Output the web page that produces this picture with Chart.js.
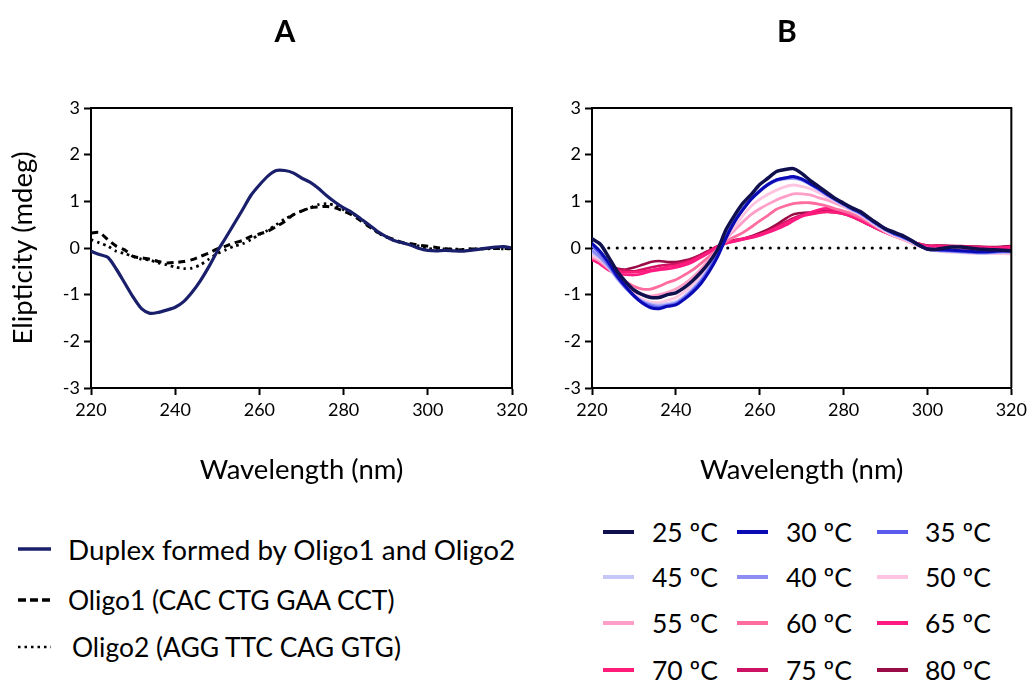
<!DOCTYPE html>
<html><head><meta charset="utf-8">
<script src="https://cdn.jsdelivr.net/npm/chart.js@4.4.1/dist/chart.umd.min.js"></script>
<style>
body{margin:0;background:#fff;}
#wrap{position:relative;width:1031px;height:685px;overflow:hidden;font-family:Lato,"Liberation Sans",sans-serif;color:#000;}
canvas{position:absolute;top:0;}
#cA{left:0;}
#cB{left:540px;}
.ptitle{position:absolute;top:12px;font-weight:bold;font-size:30px;line-height:36px;transform:translateX(-50%);}
.lg{position:absolute;height:40px;display:flex;align-items:center;white-space:nowrap;transform:translateY(-50%);}
.lg svg{display:block;}
</style></head>
<body><div id="wrap">
<canvas id="cA" width="540" height="500"></canvas>
<canvas id="cB" width="491" height="500"></canvas>
<div class="ptitle" style="left:285px">A</div>
<div class="ptitle" style="left:787px">B</div>
<div id="legA"></div><div id="legB"></div>
</div>
<script>
// ---- data ----
const wavelengths = [220,222,224,226,228,230,232,234,236,238,240,242,244,246,248,250,252,254,256,258,260,262,264,266,268,270,272,274,276,278,280,282,284,286,288,290,292,294,296,298,300,302,304,306,308,310,312,314,316,318,320];
const duplex = [-0.07,-0.14,-0.2,-0.45,-0.75,-1.05,-1.3,-1.4,-1.38,-1.33,-1.27,-1.15,-0.95,-0.7,-0.4,-0.07,0.22,0.52,0.82,1.13,1.35,1.54,1.66,1.66,1.61,1.5,1.41,1.28,1.12,0.98,0.86,0.76,0.63,0.5,0.36,0.25,0.16,0.11,0.06,-0.01,-0.05,-0.06,-0.05,-0.06,-0.07,-0.05,-0.03,0.0,0.02,0.03,0.0];
const oligo1 = [0.32,0.33,0.18,0.04,-0.04,-0.18,-0.21,-0.24,-0.29,-0.32,-0.31,-0.29,-0.25,-0.18,-0.11,-0.02,0.04,0.11,0.16,0.25,0.3,0.36,0.46,0.57,0.71,0.79,0.86,0.88,0.89,0.86,0.79,0.71,0.59,0.46,0.34,0.25,0.18,0.12,0.09,0.06,0.04,0.01,-0.01,-0.04,-0.04,-0.02,-0.02,-0.01,-0.01,-0.01,-0.01];
const oligo2 = [0.18,0.11,0.04,-0.07,-0.12,-0.18,-0.24,-0.26,-0.32,-0.36,-0.41,-0.44,-0.43,-0.36,-0.24,-0.12,-0.04,0.04,0.09,0.18,0.29,0.38,0.5,0.62,0.71,0.79,0.86,0.93,0.95,0.91,0.82,0.74,0.62,0.48,0.34,0.24,0.16,0.11,0.07,0.04,-0.01,-0.02,-0.02,-0.02,-0.03,-0.02,-0.02,-0.02,-0.01,-0.02,-0.02];

const t25 = [0.2,0.08,-0.2,-0.5,-0.72,-0.9,-1.0,-1.06,-1.06,-1.0,-0.96,-0.85,-0.7,-0.52,-0.3,-0.02,0.4,0.7,0.96,1.15,1.36,1.5,1.64,1.68,1.7,1.6,1.45,1.32,1.19,1.06,0.96,0.86,0.78,0.65,0.53,0.41,0.34,0.27,0.17,0.06,-0.02,-0.03,0.0,0.02,0.02,0.0,-0.02,-0.03,-0.04,-0.05,-0.06];
const t30 = [0.1,-0.08,-0.32,-0.6,-0.82,-1.02,-1.18,-1.28,-1.3,-1.25,-1.22,-1.1,-0.95,-0.76,-0.5,-0.18,0.22,0.56,0.82,1.05,1.22,1.36,1.46,1.5,1.53,1.48,1.38,1.28,1.16,1.05,0.95,0.85,0.76,0.64,0.52,0.41,0.32,0.25,0.17,0.06,-0.02,-0.03,-0.04,-0.05,-0.06,-0.07,-0.08,-0.08,-0.07,-0.06,-0.06];
const t35 = [0.05,-0.12,-0.36,-0.62,-0.84,-1.03,-1.17,-1.25,-1.28,-1.24,-1.2,-1.08,-0.92,-0.72,-0.46,-0.14,0.25,0.58,0.84,1.06,1.23,1.37,1.46,1.5,1.52,1.47,1.38,1.27,1.15,1.04,0.94,0.84,0.75,0.63,0.51,0.4,0.31,0.24,0.16,0.06,-0.02,-0.04,-0.05,-0.06,-0.07,-0.08,-0.09,-0.09,-0.08,-0.07,-0.07];
const t40 = [-0.05,-0.2,-0.4,-0.64,-0.85,-1.02,-1.15,-1.22,-1.25,-1.22,-1.18,-1.06,-0.9,-0.7,-0.44,-0.12,0.26,0.58,0.84,1.05,1.22,1.36,1.45,1.49,1.5,1.46,1.37,1.26,1.14,1.03,0.93,0.83,0.74,0.62,0.5,0.39,0.3,0.23,0.15,0.05,-0.03,-0.05,-0.06,-0.07,-0.08,-0.09,-0.1,-0.1,-0.09,-0.08,-0.08];
const t45 = [-0.1,-0.22,-0.42,-0.66,-0.86,-1.02,-1.14,-1.2,-1.22,-1.19,-1.15,-1.03,-0.87,-0.67,-0.41,-0.1,0.27,0.58,0.83,1.04,1.21,1.35,1.44,1.48,1.49,1.45,1.36,1.25,1.13,1.02,0.92,0.82,0.73,0.61,0.49,0.38,0.29,0.22,0.14,0.05,-0.03,-0.05,-0.07,-0.08,-0.09,-0.1,-0.11,-0.11,-0.1,-0.09,-0.09];
const t50 = [-0.15,-0.25,-0.42,-0.64,-0.84,-0.99,-1.1,-1.16,-1.17,-1.12,-1.06,-0.94,-0.78,-0.58,-0.34,-0.06,0.22,0.45,0.7,0.9,1.04,1.15,1.24,1.31,1.35,1.32,1.27,1.19,1.1,1.0,0.91,0.81,0.71,0.59,0.47,0.36,0.27,0.2,0.12,0.04,-0.03,-0.06,-0.08,-0.09,-0.1,-0.11,-0.12,-0.12,-0.12,-0.12,-0.13];
const t55 = [-0.18,-0.28,-0.44,-0.63,-0.8,-0.93,-1.0,-1.03,-1.0,-0.95,-0.88,-0.77,-0.63,-0.45,-0.24,-0.02,0.2,0.38,0.56,0.72,0.84,0.94,1.03,1.1,1.16,1.16,1.14,1.08,1.03,0.96,0.89,0.8,0.7,0.58,0.46,0.35,0.26,0.19,0.11,0.04,-0.02,-0.05,-0.06,-0.07,-0.08,-0.09,-0.1,-0.1,-0.1,-0.1,-0.1];
const t60 = [-0.2,-0.3,-0.45,-0.6,-0.72,-0.82,-0.88,-0.88,-0.82,-0.74,-0.68,-0.58,-0.47,-0.33,-0.18,-0.02,0.14,0.24,0.33,0.45,0.58,0.7,0.83,0.9,0.95,0.97,0.97,0.94,0.9,0.84,0.79,0.73,0.65,0.55,0.44,0.34,0.26,0.19,0.12,0.05,0.0,-0.02,-0.03,-0.04,-0.05,-0.05,-0.06,-0.06,-0.06,-0.05,-0.05];
const t65 = [-0.25,-0.35,-0.48,-0.55,-0.57,-0.58,-0.55,-0.5,-0.47,-0.45,-0.42,-0.37,-0.3,-0.2,-0.1,0.02,0.1,0.14,0.18,0.22,0.27,0.33,0.4,0.48,0.58,0.68,0.76,0.82,0.85,0.82,0.77,0.7,0.6,0.51,0.42,0.34,0.26,0.2,0.13,0.07,0.03,0.03,0.03,0.02,0.02,0.01,0.0,0.0,-0.01,0.0,0.01];
const t70 = [-0.22,-0.32,-0.44,-0.5,-0.52,-0.52,-0.5,-0.48,-0.44,-0.4,-0.38,-0.33,-0.27,-0.18,-0.08,0.03,0.12,0.16,0.2,0.24,0.29,0.35,0.43,0.52,0.61,0.68,0.72,0.75,0.77,0.76,0.73,0.67,0.59,0.5,0.41,0.33,0.26,0.2,0.13,0.08,0.04,0.04,0.03,0.03,0.02,0.02,0.01,0.01,0.0,0.01,0.02];
const t75 = [-0.2,-0.3,-0.4,-0.46,-0.48,-0.5,-0.46,-0.42,-0.38,-0.36,-0.34,-0.3,-0.24,-0.15,-0.06,0.04,0.1,0.15,0.19,0.23,0.28,0.36,0.45,0.55,0.64,0.7,0.74,0.78,0.8,0.79,0.75,0.68,0.6,0.51,0.42,0.34,0.27,0.21,0.14,0.09,0.05,0.05,0.04,0.04,0.03,0.03,0.02,0.02,0.01,0.02,0.03];
const t80 = [-0.18,-0.28,-0.38,-0.44,-0.46,-0.42,-0.36,-0.3,-0.28,-0.3,-0.3,-0.27,-0.22,-0.14,-0.05,0.04,0.12,0.17,0.2,0.25,0.32,0.4,0.5,0.62,0.72,0.75,0.76,0.77,0.78,0.76,0.73,0.67,0.59,0.5,0.41,0.33,0.26,0.2,0.14,0.09,0.05,0.05,0.05,0.04,0.04,0.03,0.03,0.02,0.02,0.03,0.04];
const baselineX = [224, 297];
const baselineY = [0, 0];

const seriesLabelsA = ['Duplex formed by Oligo1 and Oligo2','Oligo1 (CAC CTG GAA CCT)','Oligo2 (AGG TTC CAG GTG)'];
const tempLabels = ['25 ºC','30 ºC','35 ºC','40 ºC','45 ºC','50 ºC','55 ºC','60 ºC','65 ºC','70 ºC','75 ºC','80 ºC'];
const tempSeries = [t25,t30,t35,t40,t45,t50,t55,t60,t65,t70,t75,t80];
const xTicks = [220,240,260,280,300,320];
const yTicks = [-3,-2,-1,0,1,2,3];

// ---- styles ----
const tempColors = ['#10104f','#0a0ab4','#5a5aee','#8d8df3','#c6c6f9','#ffc4df','#ff9fc8','#ff6c9f','#ff1a82','#ff1c78','#cc1262','#990c46'];
const tempWidths = [3.5,3,3,3,3,2.8,2.8,2.8,2.6,2.6,2.6,2.6];
const legendOrderB = [0,1,2,4,3,5,6,7,8,9,10,11];

function pts(xs, ys){ return xs.map((x,i)=>({x:x, y:ys[i]})); }

const FONT = 'Lato, "Liberation Sans", sans-serif';
Chart.defaults.font.family = FONT;
Chart.defaults.color = '#000';

const frame = {
  id:'frame',
  afterDraw(chart){
    const a = chart.chartArea, ctx = chart.ctx;
    ctx.save(); ctx.strokeStyle='#000'; ctx.lineWidth=2;
    ctx.beginPath();
    ctx.moveTo(a.left, a.top); ctx.lineTo(a.right, a.top); ctx.lineTo(a.right, a.bottom);
    ctx.stroke(); ctx.restore();
  }
};

function scales(yW, showYTitle){
  return {
    x:{type:'linear', min:220, max:320,
      afterBuildTicks(s){ s.ticks = xTicks.map(v=>({value:v})); },
      afterFit(s){ s.height = 112; },
      grid:{drawOnChartArea:false, tickLength:7, tickWidth:2, color:'#000'},
      border:{display:true, width:2, color:'#000'},
      ticks:{font:{size:18}, color:'#000', padding:4, maxRotation:0},
      title:{display:true, text:'Wavelength (nm)', font:{size:27.5}, color:'#000', padding:{top:0,bottom:13}}
    },
    y:{type:'linear', min:-3, max:3,
      afterBuildTicks(s){ s.ticks = yTicks.map(v=>({value:v})); },
      afterFit(s){ s.width = yW; },
      grid:{drawOnChartArea:false, tickLength:7, tickWidth:2, color:'#000'},
      border:{display:true, width:2, color:'#000'},
      ticks:{font:{size:18}, color:'#000', padding:4},
      title:{display:showYTitle, text:'Elipticity (mdeg)', font:{size:27.5}, color:'#000', padding:{top:7,bottom:0}}
    }
  };
}

const common = {
  responsive:false, animation:false, devicePixelRatio:1,
  plugins:{legend:{display:false}, tooltip:{enabled:false}},
  elements:{point:{radius:0}, line:{tension:0.25, borderCapStyle:'round', borderJoinStyle:'round'}}
};

new Chart(document.getElementById('cA'), {
  type:'line',
  data:{datasets:[
    {label:seriesLabelsA[0], data:pts(wavelengths,duplex), borderColor:'#1a1f6b', borderWidth:3.2, fill:false},
    {label:seriesLabelsA[1], data:pts(wavelengths,oligo1), borderColor:'#000', borderWidth:3, borderDash:[7,5], borderCapStyle:'butt', fill:false},
    {label:seriesLabelsA[2], data:pts(wavelengths,oligo2), borderColor:'#000', borderWidth:2.8, borderDash:[2.5,4], borderCapStyle:'butt', fill:false}
  ]},
  options:Object.assign({}, common, {
    layout:{padding:{top:108,left:0,right:28,bottom:0}},
    scales:scales(91, true)
  }),
  plugins:[frame]
});

const dsB = tempSeries.map((arr,i)=>({label:tempLabels[i], data:pts(wavelengths,arr), borderColor:tempColors[i], borderWidth:tempWidths[i], fill:false}));
dsB.push({label:'baseline', data:pts(baselineX,baselineY), borderColor:'#000', borderWidth:3.2, borderDash:[0,8.5], borderCapStyle:'round', tension:0, fill:false});

new Chart(document.getElementById('cB'), {
  type:'line',
  data:{datasets:dsB},
  options:Object.assign({}, common, {
    layout:{padding:{top:108,left:0,right:18,bottom:0}},
    scales:scales(52, false)
  }),
  plugins:[frame]
});

function swatch(color, w, dash, width){
  return '<svg width="'+width+'" height="10"><line x1="0" y1="5" x2="'+width+'" y2="5" stroke="'+color+'" stroke-width="'+w+'"'+(dash?' stroke-dasharray="'+dash+'"':'')+'/></svg>';
}
const legA = document.getElementById('legA');
const legAspec = [
  {c:'#1a1f6b', w:3.5, d:null, y:549, tx:68, fs:27.8},
  {c:'#000', w:3.5, d:'8,4', y:600, tx:68, fs:26.4},
  {c:'#000', w:2.5, d:'2.5,4', y:647, tx:72, fs:26.4}
];
legAspec.forEach((s,i)=>{
  const el = document.createElement('div');
  el.className='lg'; el.style.left='18px'; el.style.top=s.y+'px'; el.style.fontSize=s.fs+'px';
  el.innerHTML = swatch(s.c,s.w,s.d,33)+'<span style="margin-left:'+(s.tx-18-33)+'px">'+seriesLabelsA[i]+'</span>';
  legA.appendChild(el);
});
const legB = document.getElementById('legB');
const rowY = [532,577,623,670];
const colSw = [603,737,877];
const colTx = [652,786,925];
legendOrderB.forEach((idx,k)=>{
  const r = Math.floor(k/3), c = k%3;
  const el = document.createElement('div');
  el.className='lg'; el.style.left=colSw[c]+'px'; el.style.top=rowY[r]+'px'; el.style.fontSize='26.5px';
  el.innerHTML = swatch(tempColors[idx],4,null,31)+'<span style="margin-left:'+(colTx[c]-colSw[c]-31)+'px">'+tempLabels[idx]+'</span>';
  legB.appendChild(el);
});
</script>
</body></html>
